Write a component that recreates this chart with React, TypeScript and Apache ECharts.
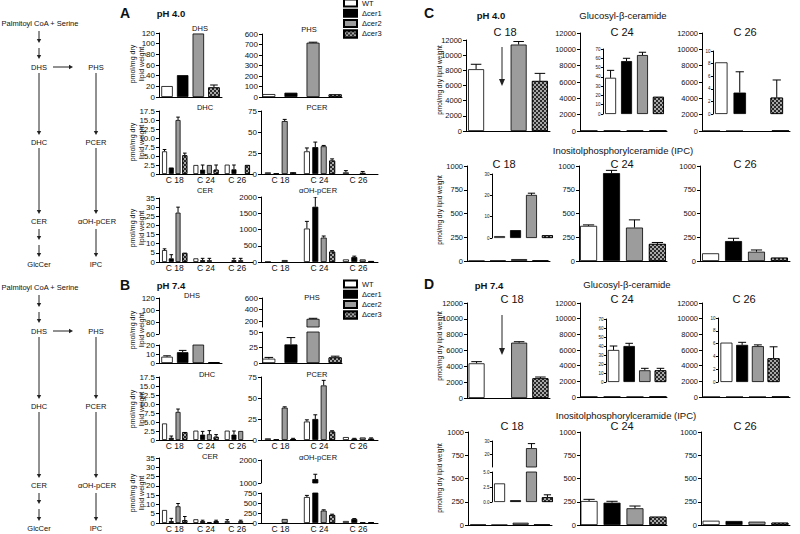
import { useEffect, useRef } from 'react';
import * as echarts from 'echarts';

const FONT = '"Liberation Sans", Arial, Helvetica, sans-serif';
const strains = ['WT', 'Δcer1', 'Δcer2', 'Δcer3'];
const chains = ['C 18', 'C 24', 'C 26'];

// ---------- Panel A (pH 4.0), order: WT, Δcer1, Δcer2, Δcer3 ----------
const aDHS = [20.5, 41, 119, 18];
const aDHSErr = [null, null, null, 22.5];
const aPHS = [28, 41, 517, 25];
const aPHSErr = [null, null, 522, null];
const aPHSTicks = ['0', '100', '200', '300', '400', '700', '600'];
// strain x chain (C18, C24, C26)
const aDHC = [[6.3, 2.5, 2.6], [1.8, 1.2, 1.3], [15.0, 2.5, 0], [5.2, 1.2, 2.5]];
const aDHCErr = [[6.8, null, null], [null, 2.5, 2.5], [15.8, null, null], [5.8, 2.5, null]];
const aPCER = [[2, 27, 2], [1, 32, 0], [63, 33, 1.5], [2, 16, 0]];
const aPCERErr = [[null, 31, 4], [null, 38, null], [65, 34, 3], [null, 18, null]];
const aCER = [[6.5, 2, 0], [2, 1, 1], [27, 1, 1], [5, 0, 0]];
const aCERErr = [[7.2, null, null], [4, 2, 2], [30, 2, 2], [null, null, null]];
const aOH = [[5, 1030, 80], [0, 1700, 150], [60, 750, 80], [0, 320, 30]];
const aOHErr = [[null, 1250, null], [null, 2000, 180], [null, 800, null], [null, 350, null]];

// ---------- Panel B (pH 7.4) ----------
const bDHS = [7, 12, 22, 1];
const bDHSErr = [8, 14, 25, null];
const bPHS = [7, 30, 240, 9];
const bPHSErr = [9, 41, 250, 11];
const bDHC = [[4.6, 2.6, 2.6], [0.6, 1.5, 1.5], [7.8, 1.6, 2.5], [2.2, 0.9, 0]];
const bDHCErr = [[null, null, null], [1.1, 2.4, 2.5], [8.6, 2.6, null], [null, 1.5, null]];
const bPCER = [[2, 22, 3.5], [1, 25, 1.5], [38.5, 65, 3], [1, 10, 1.5]];
const bPCERErr = [[null, 24, null], [null, 30, 2], [39.5, 71, null], [2, 11, 2.5]];
const bCER = [[7, 2, 1], [1, 1, 0], [9, 0.5, 1], [1.5, 1, 0]];
const bCERErr = [[null, null, 1.8], [2.5, 1.5, null], [10.5, null, 1.5], [3.5, 1.5, null]];
const bOH = [[0, 650, 50], [0, 1170, 100], [100, 310, 20], [0, 200, 20]];
const bOHErr = [[null, 690, null], [null, 1380, 110], [null, 330, null], [null, 220, null]];

// ---------- Panel C (pH 4.0) ----------
const cGlc18 = [8150, 0, 11400, 6600];
const cGlc18Err = [8800, null, 11800, 7600];
const cGlc24 = [39, 57, 63.5, 18.5];
const cGlc24Err = [47, 60, 66.5, null];
const cGlc26 = [8.2, 3.4, 0, 2.6];
const cGlc26Err = [null, 6.7, null, 5.4];
const cIPC18 = [0.9, 3.7, 20.2, 1.3];
const cIPC18Err = [null, null, 21, null];
const cIPC24 = [370, 925, 352, 180];
const cIPC24Err = [380, 954, 433, 195];
const cIPC26 = [81, 210, 98, 35];
const cIPC26Err = [null, 239, 116, null];

// ---------- Panel D (pH 7.4) ----------
const dGlc18 = [4380, 0, 6990, 2490];
const dGlc18Err = [4590, null, 7110, 2650];
const dGlc24 = [35.6, 40, 13, 13];
const dGlc24Err = [40, 43, 15.2, 15.2];
const dGlc26 = [6.15, 5.8, 5.6, 3.7];
const dGlc26Err = [null, 6.2, 5.8, 5.5];
const dIPC18 = [3.1, 0.3, 24.5, 0.8];
const dIPC18Err = [null, null, 28, 1.2];
const dIPC24 = [258, 240, 180, 89];
const dIPC24Err = [276, 255, 204, null];
const dIPC26 = [46, 43, 36, 25];
const dIPC26Err = [null, null, null, null];

const one = (a: (number | null)[]) => a.map((v) => [v]);

const strainStyles: any[] = [
  { color: '#ffffff', borderColor: '#000', borderWidth: 0.8 },
  { color: '#000000', borderColor: '#000', borderWidth: 0.8 },
  { color: '#9c9c9c', borderColor: '#000', borderWidth: 0.8 },
  {
    color: '#2a2a2a',
    borderColor: '#000',
    borderWidth: 0.8,
    decal: {
      symbol: 'rect',
      symbolSize: 1,
      dashArrayX: [[2, 2], [0, 2, 2, 0]],
      dashArrayY: [2, 0],
      color: '#a8a8a8',
      rotation: 0,
    },
  },
];

type Cfg = {
  rect: number[];
  cats: string[];
  values: (number | null)[][];
  errs: (number | null)[][];
  min: number;
  max: number;
  interval: number;
  fmt?: (v: number) => string;
  fs: number;
  barW: number;
  gapPct: number;
  showX?: boolean;
  xLine?: boolean;
  xfs?: number;
  tickLen?: number;
  margin?: number;
  tickValues?: number[];
};

function errRender(barW: number, gap: number) {
  const total = 4 * barW + 3 * gap;
  return (_p: any, api: any) => {
    const c = api.value(0);
    const v = api.value(1);
    const e = api.value(2);
    const k = api.value(3);
    const base = api.coord([c, v]);
    const top = api.coord([c, e]);
    const x = base[0] - total / 2 + k * (barW + gap) + barW / 2;
    const cap = Math.max(1.8, barW * 0.33);
    const st = { stroke: '#000', lineWidth: 1 };
    return {
      type: 'group',
      children: [
        { type: 'line', shape: { x1: x, y1: base[1], x2: x, y2: top[1] }, style: st },
        { type: 'line', shape: { x1: x - cap, y1: top[1], x2: x + cap, y2: top[1] }, style: st },
      ],
    };
  };
}

function buildOption() {
  const grid: any[] = [];
  const xAxis: any[] = [];
  const yAxis: any[] = [];
  const series: any[] = [];
  const axisColor = { color: '#000', width: 1 };

  const add = (c: Cfg) => {
    const i = grid.length;
    const [x1, y1, x2, y2] = c.rect;
    grid.push({ left: x1, top: y1, width: x2 - x1, height: y2 - y1, containLabel: false, outerBoundsMode: 'none' });
    xAxis.push({
      type: 'category',
      gridIndex: i,
      data: c.cats,
      axisLine: { show: c.xLine !== false, onZero: false, lineStyle: axisColor },
      axisTick: { show: false },
      axisLabel: { show: !!c.showX, fontSize: c.xfs || 8.5, color: '#111', margin: 1.5, fontFamily: FONT, interval: 0 },
      splitLine: { show: false },
    });
    const yLabel: any = {
      fontSize: c.fs,
      color: '#111',
      margin: c.margin ?? 4,
      fontFamily: FONT,
      showMinLabel: true,
      showMaxLabel: true,
      formatter: c.fmt || ((v: number) => String(v)),
    };
    const yTick: any = { show: true, length: c.tickLen ?? 3, lineStyle: axisColor };
    if (c.tickValues) {
      yLabel.customValues = c.tickValues;
      yTick.customValues = c.tickValues;
    }
    yAxis.push({
      type: 'value',
      gridIndex: i,
      min: c.min,
      max: c.max,
      interval: c.interval,
      axisLine: { show: true, lineStyle: axisColor },
      axisTick: yTick,
      axisLabel: yLabel,
      splitLine: { show: false },
    });
    const gap = (c.barW * c.gapPct) / 100;
    strains.forEach((s, k) => {
      series.push({
        type: 'bar',
        name: s,
        xAxisIndex: i,
        yAxisIndex: i,
        data: c.values[k].map((v) => (v == null || v === 0 ? '-' : v)),
        barWidth: c.barW,
        barGap: c.gapPct + '%',
        itemStyle: strainStyles[k],
        clip: true,
        silent: true,
      });
    });
    const errData: any[] = [];
    c.errs.forEach((row, k) =>
      row.forEach((e, ci) => {
        if (e != null) errData.push([ci, c.values[k][ci] ?? 0, e, k]);
      })
    );
    series.push({
      type: 'custom',
      xAxisIndex: i,
      yAxisIndex: i,
      clip: true,
      silent: true,
      renderItem: errRender(c.barW, gap),
      data: errData,
    });
  };

  const dec1 = (v: number) => (v === 0 ? '0' : v.toFixed(1));

  // ---------------- Panel A ----------------
  add({ rect: [159, 33, 222, 97], cats: [''], values: one(aDHS), errs: one(aDHSErr), min: 0, max: 120, interval: 20, fs: 8, barW: 11.5, gapPct: 36 });
  add({ rect: [262, 34, 342, 97], cats: [''], values: one(aPHS), errs: one(aPHSErr), min: 0, max: 600, interval: 100, fs: 8, barW: 13, gapPct: 70, fmt: (v) => aPHSTicks[Math.round(v / 100)] });
  add({ rect: [159, 111, 253, 174], cats: chains, showX: true, values: aDHC, errs: aDHCErr, min: 0, max: 17.5, interval: 2.5, fs: 8, barW: 5, gapPct: 35, fmt: dec1 });
  add({ rect: [261, 111, 378, 174], cats: chains, showX: true, values: aPCER, errs: aPCERErr, min: 0, max: 75, interval: 25, fs: 8, barW: 6, gapPct: 40 });
  add({ rect: [159, 198, 253, 262], cats: chains, showX: true, values: aCER, errs: aCERErr, min: 0, max: 35, interval: 5, fs: 8, barW: 5, gapPct: 35 });
  add({ rect: [261, 197, 378, 262], cats: chains, showX: true, values: aOH, errs: aOHErr, min: 0, max: 2000, interval: 500, fs: 8, barW: 6, gapPct: 40 });

  // ---------------- Panel B ----------------
  add({ rect: [159, 298, 222, 334], cats: [''], xLine: false, values: one(bDHS), errs: one(bDHSErr), min: 60, max: 120, interval: 20, fs: 8, barW: 11.5, gapPct: 36 });
  add({ rect: [159, 345, 222, 363], cats: [''], values: one(bDHS), errs: one(bDHSErr), min: 0, max: 20, interval: 10, fs: 8, barW: 11.5, gapPct: 36 });
  add({ rect: [262, 298, 342, 327], cats: [''], xLine: false, values: one(bPHS), errs: one(bPHSErr), min: 100, max: 600, interval: 100, fs: 8, barW: 13, gapPct: 70, tickValues: [200, 400, 600], fmt: (v) => (v % 200 === 0 ? String(v) : '') });
  add({ rect: [262, 332, 342, 363], cats: [''], values: one(bPHS), errs: one(bPHSErr), min: 0, max: 50, interval: 25, fs: 8, barW: 13, gapPct: 70 });
  add({ rect: [159, 377, 253, 440], cats: chains, showX: true, values: bDHC, errs: bDHCErr, min: 0, max: 17.5, interval: 2.5, fs: 8, barW: 5, gapPct: 35, fmt: dec1 });
  add({ rect: [261, 377, 378, 440], cats: chains, showX: true, values: bPCER, errs: bPCERErr, min: 0, max: 75, interval: 25, fs: 8, barW: 6, gapPct: 40 });
  add({ rect: [159, 458, 253, 523], cats: chains, showX: true, values: bCER, errs: bCERErr, min: 0, max: 35, interval: 5, fs: 8, barW: 5, gapPct: 35 });
  add({ rect: [261, 460, 378, 483], cats: chains, xLine: false, values: bOH, errs: bOHErr, min: 1000, max: 2000, interval: 1000, fs: 8, barW: 6, gapPct: 40 });
  add({ rect: [261, 493, 378, 523], cats: chains, showX: true, values: bOH, errs: bOHErr, min: 0, max: 750, interval: 250, fs: 8, barW: 6, gapPct: 40 });

  // ---------------- Panel C ----------------
  const big = { min: 0, max: 12000, interval: 2000, fs: 7.5 };
  const ipc = { min: 0, max: 1000, interval: 250, fs: 7.5 };
  const none4 = [null, null, null, null];
  add({ rect: [466, 40, 550, 131], cats: [''], values: one(cGlc18), errs: one(cGlc18Err), ...big, barW: 16, gapPct: 33 });
  add({ rect: [580, 33, 667, 131], cats: [''], values: one(cGlc24), errs: one(none4), ...big, barW: 17, gapPct: 35 });
  add({ rect: [603, 49, 666, 114], cats: [''], xLine: false, values: one(cGlc24), errs: one(cGlc24Err), min: 0, max: 70, interval: 10, fs: 4.5, tickLen: 2, margin: 2.5, barW: 11, gapPct: 45 });
  add({ rect: [702, 33, 790, 131], cats: [''], values: one(cGlc26), errs: one(none4), ...big, barW: 17, gapPct: 35 });
  add({ rect: [713, 51, 785, 114], cats: [''], xLine: false, values: one(cGlc26), errs: one(cGlc26Err), min: 0, max: 10, interval: 2, fs: 4.5, tickLen: 2, margin: 2.5, barW: 12.5, gapPct: 48 });
  add({ rect: [467, 166, 550, 261], cats: [''], values: one(cIPC18), errs: one(none4), ...ipc, barW: 16, gapPct: 33 });
  add({ rect: [492, 174, 555, 238], cats: [''], xLine: false, values: one(cIPC18), errs: one(cIPC18Err), min: 0, max: 30, interval: 10, fs: 4.5, tickLen: 2, margin: 2.5, barW: 11, gapPct: 45 });
  add({ rect: [579, 166, 667, 261], cats: [''], values: one(cIPC24), errs: one(cIPC24Err), ...ipc, barW: 17, gapPct: 35 });
  add({ rect: [700, 166, 790, 261], cats: [''], values: one(cIPC26), errs: one(cIPC26Err), ...ipc, barW: 17, gapPct: 35 });

  // ---------------- Panel D ----------------
  add({ rect: [467, 303, 550, 398], cats: [''], values: one(dGlc18), errs: one(dGlc18Err), ...big, barW: 16, gapPct: 33 });
  add({ rect: [580, 303, 667, 397], cats: [''], values: one(dGlc24), errs: one(none4), ...big, barW: 17, gapPct: 35 });
  add({ rect: [606, 319, 668, 382], cats: [''], xLine: false, values: one(dGlc24), errs: one(dGlc24Err), min: 0, max: 70, interval: 10, fs: 4.5, tickLen: 2, margin: 2.5, barW: 11.5, gapPct: 36 });
  add({ rect: [702, 303, 790, 397], cats: [''], values: one(dGlc26), errs: one(none4), ...big, barW: 17, gapPct: 35 });
  add({ rect: [718, 318, 782, 382], cats: [''], xLine: false, values: one(dGlc26), errs: one(dGlc26Err), min: 0, max: 10, interval: 2, fs: 4.5, tickLen: 2, margin: 2.5, barW: 12, gapPct: 31 });
  add({ rect: [468, 432, 552, 525], cats: [''], values: one(dIPC18), errs: one(none4), ...ipc, barW: 16, gapPct: 33 });
  add({ rect: [492, 441, 555, 467], cats: [''], xLine: false, values: one(dIPC18), errs: one(dIPC18Err), min: 10, max: 30, interval: 10, fs: 4.5, tickLen: 2, margin: 2.5, barW: 11, gapPct: 45, tickValues: [20, 30], fmt: (v) => (v === 10 ? '' : String(v)) });
  add({ rect: [492, 472, 555, 502], cats: [''], xLine: false, values: one(dIPC18), errs: one(dIPC18Err), min: 0, max: 5, interval: 2.5, fs: 4.5, tickLen: 2, margin: 2.5, barW: 11, gapPct: 45, fmt: (v) => v.toFixed(1) });
  add({ rect: [580, 432, 667, 525], cats: [''], values: one(dIPC24), errs: one(dIPC24Err), ...ipc, barW: 17, gapPct: 35 });
  add({ rect: [701, 432, 790, 525], cats: [''], values: one(dIPC26), errs: one(dIPC26Err), ...ipc, barW: 17, gapPct: 35 });

  // ---------------- Graphic annotations ----------------
  const els: any[] = [];
  const txt = (text: string, x: number, y: number, fontSize: number, extra: any = {}) => {
    els.push({
      type: 'text',
      x,
      y,
      rotation: extra.rotation || 0,
      silent: true,
      style: {
        text,
        fontSize,
        fontFamily: FONT,
        fontWeight: extra.bold ? 'bold' : 'normal',
        fill: '#111',
        align: extra.align || 'center',
        verticalAlign: 'middle',
        lineHeight: extra.lineHeight,
      },
    });
  };
  const ln = { stroke: '#222', lineWidth: 1 };
  const vArrow = (x: number, y1: number, y2: number, hw = 2.2, hh = 4) => {
    els.push({ type: 'line', silent: true, shape: { x1: x, y1, x2: x, y2: y2 - hh + 0.5 }, style: ln });
    els.push({ type: 'polygon', silent: true, shape: { points: [[x - hw, y2 - hh], [x + hw, y2 - hh], [x, y2]] }, style: { fill: '#222' } });
  };
  const hArrow = (x1: number, x2: number, y: number, hw = 2.2, hh = 4) => {
    els.push({ type: 'line', silent: true, shape: { x1, y1: y, x2: x2 - hh + 0.5, y2: y }, style: ln });
    els.push({ type: 'polygon', silent: true, shape: { points: [[x2 - hh, y - hw], [x2 - hh, y + hw], [x2, y]] }, style: { fill: '#222' } });
  };

  // pathway diagrams
  [0, 264].forEach((dy) => {
    txt('Palmitoyl CoA + Serine', 40, 23 + dy, 7.5);
    txt('DHS', 39, 67 + dy, 7.5);
    txt('PHS', 96, 67 + dy, 7.5);
    txt('DHC', 39, 142 + dy, 7.5);
    txt('PCER', 96, 142 + dy, 7.5);
    txt('CER', 39, 221 + dy, 7.5);
    txt('αOH-pCER', 97, 221 + dy, 7.5);
    txt('GlcCer', 39, 264 + dy, 7.5);
    txt('IPC', 96, 264 + dy, 7.5);
    vArrow(39, 31 + dy, 43 + dy);
    vArrow(39, 48 + dy, 59 + dy);
    hArrow(53, 73, 67 + dy);
    vArrow(39, 73 + dy, 135 + dy);
    vArrow(96, 73 + dy, 135 + dy);
    vArrow(39, 148 + dy, 214 + dy);
    vArrow(96, 148 + dy, 214 + dy);
    vArrow(39, 229 + dy, 240 + dy);
    vArrow(39, 245 + dy, 257 + dy);
    vArrow(96, 229 + dy, 257 + dy);
  });

  // panel letters and pH
  txt('A', 125, 13, 14, { bold: true });
  txt('B', 125, 285, 14, { bold: true });
  txt('C', 429, 13, 14, { bold: true });
  txt('D', 429, 284, 14, { bold: true });
  txt('pH 4.0', 171, 13, 9.5, { bold: true });
  txt('pH 7.4', 171, 285, 9.5, { bold: true });
  txt('pH 4.0', 491, 15, 9.5, { bold: true });
  txt('pH 7.4', 489, 285, 9.5, { bold: true });

  // A/B subchart titles
  const sub: [string, number, number][] = [
    ['DHS', 200, 28], ['PHS', 309, 29], ['DHC', 205, 107], ['PCER', 317, 107], ['CER', 205, 190], ['αOH-pCER', 318, 190],
    ['DHS', 192, 295], ['PHS', 312, 297], ['DHC', 207, 374], ['PCER', 317, 374], ['CER', 210, 456], ['αOH-pCER', 318, 457],
  ];
  sub.forEach(([t, x, y]) => txt(t, x, y, 7.5));

  // A/B y names
  [64, 142, 228, 330, 409, 493].forEach((y) =>
    txt('pmol/mg dry\nlipid weight', 137, y, 7, { rotation: Math.PI / 2, lineHeight: 9 })
  );
  // C/D y names
  [80, 210, 346, 478].forEach((y) => txt('pmol/mg dry lipid weight', 439, y, 6.5, { rotation: Math.PI / 2 }));

  // C/D titles
  txt('Glucosyl-β-ceramide', 623, 15, 9.5);
  txt('Glucosyl-β-ceramide', 627, 284, 9.5);
  txt('Inositolphosphorylceramide (IPC)', 623, 150, 9.5);
  txt('Inositolphosphorylceramide (IPC)', 626, 415, 9.5);
  const cTitles: [string, number, number][] = [
    ['C 18', 505, 32], ['C 24', 622, 32], ['C 26', 745, 32],
    ['C 18', 504, 164], ['C 24', 622, 164], ['C 26', 745, 164],
    ['C 18', 512, 299], ['C 24', 622, 299], ['C 26', 744, 299],
    ['C 18', 512, 426], ['C 24', 622, 426], ['C 26', 745, 426],
  ];
  cTitles.forEach(([t, x, y]) => txt(t, x, y, 11));

  // arrows marking absent Δcer1 bar
  vArrow(502, 47, 86, 3, 7);
  vArrow(502, 315, 355, 3, 7);

  return {
    animation: false,
    backgroundColor: '#ffffff',
    textStyle: { fontFamily: FONT },
    grid,
    xAxis,
    yAxis,
    series,
    legend: [-1.5, 279.5].map((top) => ({
      data: strains,
      orient: 'vertical',
      left: 343,
      top,
      padding: 0,
      itemWidth: 13,
      itemHeight: 7,
      itemGap: 1.3,
      icon: 'rect',
      selectedMode: false,
      textStyle: { fontSize: 7.5, color: '#111', fontFamily: FONT },
    })),
    graphic: { elements: els },
  };
}

export default function App() {
  const ref = useRef<HTMLDivElement>(null);
  useEffect(() => {
    const chart = echarts.init(ref.current!, null, { renderer: 'svg' });
    chart.setOption(buildOption() as any);
    return () => chart.dispose();
  }, []);
  return (
    <div
      ref={ref}
      style={{ position: 'absolute', left: 0, top: 0, width: 800, height: 534, background: '#fff' }}
    />
  );
}
